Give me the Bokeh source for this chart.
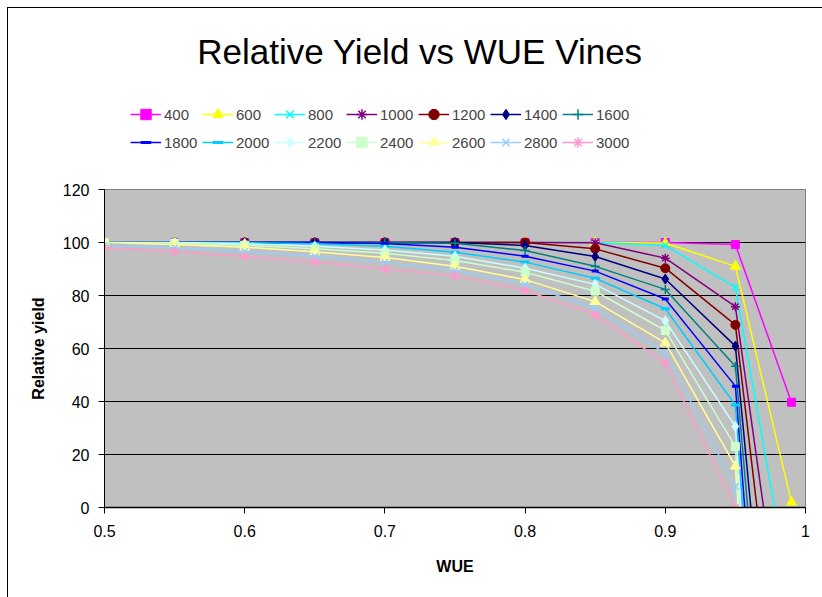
import numpy as np
from bokeh.plotting import figure
from bokeh.layouts import column
from bokeh.models import (Legend, LegendItem, Label, FixedTicker, Range1d, ColumnDataSource)
from bokeh.embed import file_html
from bokeh.resources import INLINE

# ---------------- data ----------------
wue = [0.5, 0.55, 0.6, 0.65, 0.7, 0.75, 0.8, 0.85, 0.9, 0.95, 0.99]

series_names = ["400", "600", "800", "1000", "1200", "1400", "1600",
                "1800", "2000", "2200", "2400", "2600", "2800", "3000"]

y_400 = [100, 100, 100, 100, 100, 100, 100, 100, 100, 99.2, 39.7]
y_600 = [100, 100, 100, 100, 100, 100, 100, 100, 99.8, 91, 2]
y_800 = [100, 100, 100, 100, 100, 100, 100, 100, 98.9, 83.1, -36]
y_1000 = [100, 100, 100, 100, 100, 100, 100, 99.9, 94.1, 75.8, -75]
y_1200 = [100, 100, 100, 100, 100, 100, 100, 97.6, 90.3, 68.9, -110]
y_1400 = [100, 100, 100, 100, 100, 100, 98.9, 94.7, 86.2, 60.9, -160]
y_1600 = [100, 100, 100, 100, 100, 99.7, 97, 91, 82.3, 53.3, -190]
y_1800 = [100, 100, 100, 100, 99.6, 98.2, 94.8, 89.2, 78.7, 45.8, -230]
y_2000 = [100, 100, 100, 99.5, 98.6, 96.3, 92.6, 86.5, 75, 38.7, -260]
y_2200 = [100, 100, 99.6, 98.6, 97.2, 94.8, 90.3, 84.2, 70.4, 30.6, -290]
y_2400 = [100, 99.8, 99, 97.6, 95.9, 93.2, 88.8, 81.6, 66.8, 23, -320]
y_2600 = [100, 99.2, 98.2, 96.5, 94.3, 91, 86, 77.7, 62.1, 15.6, -350]
y_2800 = [98.9, 98, 96.6, 94.8, 92.5, 89.4, 84.2, 75.2, 58.2, 7.9, -380]
y_3000 = [97.9, 96.6, 94.7, 92.6, 90, 87.5, 81.9, 72.7, 54.6, 0, -410]

series_values = [y_400, y_600, y_800, y_1000, y_1200, y_1400, y_1600,
                 y_1800, y_2000, y_2200, y_2400, y_2600, y_2800, y_3000]

x_ticks = [0.5, 0.6, 0.7, 0.8, 0.9, 1.0]
x_tick_labels = ["0.5", "0.6", "0.7", "0.8", "0.9", "1"]
y_ticks = [0, 20, 40, 60, 80, 100, 120]
y_grid_ticks = [20, 40, 60, 80, 100]

colors = ["#FF00FF", "#FFFF00", "#00FFFF", "#800080", "#800000", "#000080", "#008080",
          "#0000FF", "#00CCFF", "#CCFFFF", "#CCFFCC", "#FFFF99", "#99CCFF", "#FF99CC"]
markers = ["square", "triangle", "x", "asterisk", "circle", "diamond", "cross",
           "dash", "dash", "diamond", "square", "triangle", "x", "asterisk"]
msizes = [8, 10, 9, 9, 9, 10, 9, 7, 9, 10, 8, 10, 9, 9]
mlw = [1, 1, 1.5, 1.5, 1, 1, 1.5, 3, 3, 1, 1, 1, 1.5, 1.5]

FONT = "Liberation Sans"
W = 814
TOP_H = 171
MAIN_H = 418

# ---------------- main chart ----------------
p = figure(width=W, height=MAIN_H, output_backend="svg", toolbar_location=None,
           x_range=Range1d(0.5, 1.0), y_range=Range1d(0, 120),
           min_border_left=96, min_border_right=17, min_border_top=10,
           min_border_bottom=90, background_fill_color="#C0C0C0",
           border_fill_color="white")
p.outline_line_color = "#808080"
p.outline_line_width = 1

p.xaxis.ticker = FixedTicker(ticks=x_ticks)
p.xaxis.major_label_overrides = {t: l for t, l in zip(x_ticks, x_tick_labels)}
p.yaxis.ticker = FixedTicker(ticks=y_ticks)
for ax in (p.xaxis[0], p.yaxis[0]):
    ax.axis_line_color = "black"
    ax.major_tick_line_color = "black"
    ax.major_tick_out = 6
    ax.major_tick_in = 0
    ax.minor_tick_line_color = None
    ax.major_label_text_font = FONT
    ax.major_label_text_font_size = "16px"
    ax.major_label_text_color = "black"
    ax.axis_label_text_font = FONT
    ax.axis_label_text_font_size = "16px"
    ax.axis_label_text_font_style = "bold"
    ax.axis_label_text_color = "black"
p.xaxis.axis_line_width = 1.5
p.xaxis.major_label_standoff = 11
p.yaxis.major_label_standoff = 9
p.xaxis.axis_label = "WUE"
p.yaxis.axis_label = "Relative yield"
p.xaxis.axis_label_standoff = 18
p.yaxis.axis_label_standoff = 13

p.xgrid.grid_line_color = None
p.ygrid.ticker = FixedTicker(ticks=y_grid_ticks)
p.ygrid.grid_line_color = "black"
p.ygrid.grid_line_width = 1

# ---------------- header (title + legend) ----------------
h = figure(width=W, height=TOP_H, output_backend="svg", toolbar_location=None,
           x_range=Range1d(2, 3), y_range=Range1d(1000, 1001),
           x_axis_type=None, y_axis_type=None,
           min_border_left=0, min_border_right=0, min_border_top=0,
           min_border_bottom=0, background_fill_color="white",
           border_fill_color="white")
h.outline_line_color = None
h.grid.visible = False

items = []
for name, vals, c, m, s, lw in zip(series_names, series_values, colors, markers, msizes, mlw):
    src = ColumnDataSource(dict(x=wue, y=vals))
    p.line("x", "y", source=src, line_color=c, line_width=1.5)
    p.scatter("x", "y", source=src, marker=m, size=s, fill_color=c,
              line_color=c, line_width=lw)
    # same series in the header figure (outside its ranges) to feed the legend
    lr = h.line("x", "y", source=src, line_color=c, line_width=1.5)
    sr = h.scatter("x", "y", source=src, marker=m, size=s, fill_color=c,
                   line_color=c, line_width=lw)
    items.append(LegendItem(label=name, renderers=[lr, sr]))

legend = Legend(items=items, orientation="horizontal", ncols=7,
                location=(26, 24), padding=0, margin=0, spacing=2,
                glyph_width=31, glyph_height=26, label_standoff=3,
                label_width=36, label_height=26,
                label_text_font=FONT, label_text_font_size="15px",
                border_line_color=None, background_fill_alpha=0)
h.add_layout(legend, "center")

h.add_layout(Label(x=315.5, y=128, x_units="screen", y_units="screen",
                   text="Relative Yield vs WUE Vines", text_font=FONT,
                   text_font_size="35px", text_align="center",
                   text_baseline="alphabetic", text_color="black"))

layout = column(h, p, spacing=0)
layout.margin = (7, 0, 0, 7)
layout.styles = {"border-left": "1px solid black", "border-top": "1px solid black"}

open("out.html", "w").write(file_html(layout, INLINE))
